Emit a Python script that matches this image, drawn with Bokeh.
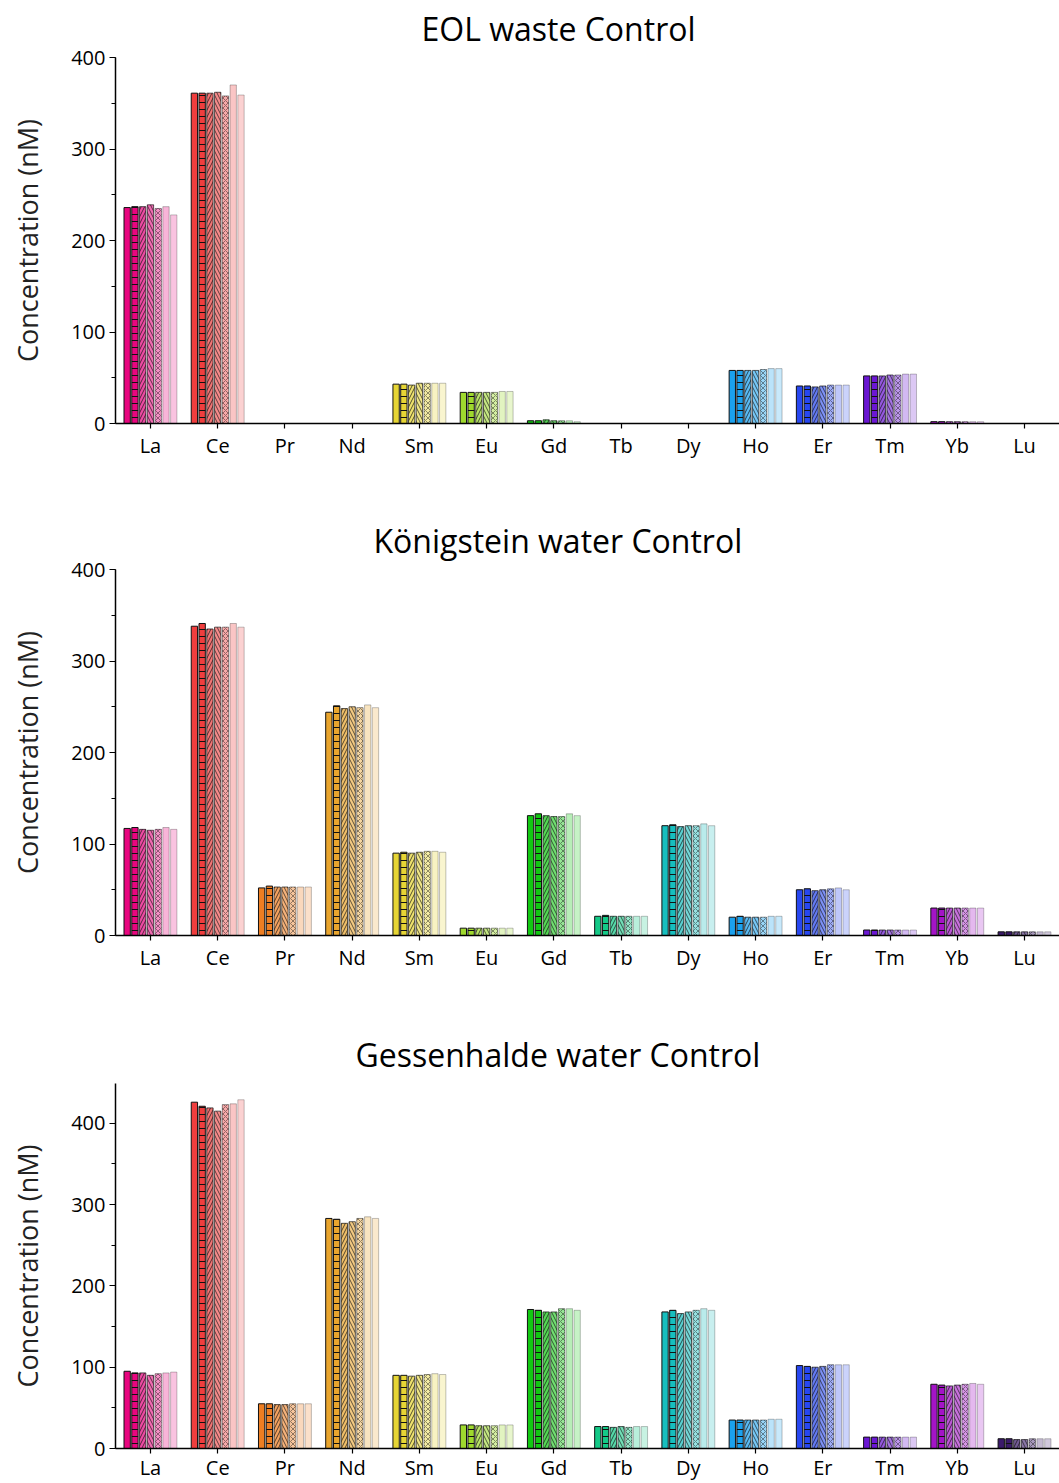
from bokeh.plotting import figure
from bokeh.models import ColumnDataSource, Range1d, FixedTicker, SingleIntervalTicker
from bokeh.layouts import column
from bokeh.embed import file_html
from bokeh.resources import INLINE

elements = ["La", "Ce", "Pr", "Nd", "Sm", "Eu", "Gd", "Tb", "Dy", "Ho", "Er", "Tm", "Yb", "Lu"]

# 7 replicate bars per element
eol_waste = [
    [236, 237, 237, 239, 235, 237, 228],
    [361, 361, 361, 362, 358, 370, 359],
    [0, 0, 0, 0, 0, 0, 0],
    [0, 0, 0, 0, 0, 0, 0],
    [43, 43, 42, 44, 44, 44, 44],
    [34, 34, 34, 34, 34, 35, 35],
    [3, 3, 4, 3, 3, 3, 2],
    [0, 0, 0, 0, 0, 0, 0],
    [0, 0, 0, 0, 0, 0, 0],
    [58, 58, 58, 58, 59, 60, 60],
    [41, 41, 40, 41, 42, 42, 42],
    [52, 52, 52, 53, 53, 54, 54],
    [2, 2, 2, 2, 2, 2, 2],
    [0, 0, 0, 0, 0, 0, 0],
]
koenigstein = [
    [117, 118, 116, 115, 116, 118, 116],
    [338, 341, 335, 337, 337, 341, 337],
    [52, 54, 53, 53, 53, 53, 53],
    [244, 251, 248, 250, 249, 252, 249],
    [90, 91, 90, 91, 92, 92, 91],
    [8, 8, 8, 8, 8, 8, 8],
    [131, 133, 131, 130, 130, 133, 131],
    [21, 22, 21, 21, 21, 21, 21],
    [120, 121, 119, 120, 120, 122, 120],
    [20, 21, 20, 20, 20, 21, 21],
    [50, 51, 49, 50, 51, 52, 50],
    [6, 6, 6, 6, 6, 6, 6],
    [30, 30, 30, 30, 30, 30, 30],
    [4, 4, 4, 4, 4, 4, 4],
]
gessenhalde = [
    [95, 93, 93, 90, 92, 93, 94],
    [426, 421, 419, 415, 423, 424, 429],
    [55, 55, 54, 54, 55, 55, 55],
    [283, 282, 277, 279, 283, 285, 283],
    [90, 90, 89, 90, 91, 92, 91],
    [29, 29, 28, 28, 28, 29, 29],
    [171, 170, 168, 168, 172, 172, 170],
    [27, 27, 26, 27, 26, 27, 27],
    [168, 170, 166, 168, 170, 172, 170],
    [35, 35, 35, 35, 35, 36, 36],
    [102, 101, 100, 101, 103, 103, 103],
    [14, 14, 14, 14, 14, 14, 14],
    [79, 78, 77, 78, 79, 80, 79],
    [12, 12, 11, 11, 12, 12, 12],
]

titles = ["EOL waste Control", "Königstein water Control", "Gessenhalde water Control"]
y_max = [400, 400, 449]

base_colors = ["#E8067F", "#EF3E3E", "#EE7E22", "#E9A52E", "#E6D535", "#9FD92E", "#12C812",
               "#14C987", "#17BEBE", "#1BA1EE", "#2747F0", "#6B17D3", "#A414C7", "#3B1A6B"]
fill_alphas = [1.0, 1.0, 0.72, 0.6, 0.45, 0.3, 0.24]
line_alphas = [1.0, 1.0, 0.7, 0.65, 0.45, 0.28, 0.25]
hatches = [" ", "horizontal_line", "right_diagonal_line", "left_diagonal_line", "diagonal_cross", " ", " "]
hatch_scales = [7, 7, 7, 7, 5, 7, 7]

slot = 0.1155
bar_w = 0.094
X0, X1 = -0.52, 13.52

FONT = "Open Sans"
# left-aligned title offsets (title text centred near page x ~557)
title_offsets = [306, 258, 240]


def make_panel(title, t_off, data, ymax, height, top_border, bottom_border, xlabel_standoff):
    x, top, fc, fa, la, hp, hs = [], [], [], [], [], [], []
    for i, row in enumerate(data):
        for j, v in enumerate(row):
            x.append(i + (j - 3) * slot)
            top.append(v)
            fc.append(base_colors[i])
            fa.append(fill_alphas[j])
            la.append(line_alphas[j])
            hp.append(hatches[j])
            hs.append(hatch_scales[j])
    src = ColumnDataSource(dict(x=x, top=top, fc=fc, fa=fa, la=la, hp=hp, hs=hs))
    p = figure(width=1059, height=height, output_backend="svg", toolbar_location=None,
               x_range=Range1d(X0, X1), y_range=Range1d(0, ymax),
               min_border_left=115, min_border_right=0, min_border_top=top_border,
               min_border_bottom=bottom_border, outline_line_color=None)
    p.vbar(x="x", top="top", bottom=0, width=bar_w, source=src,
           fill_color="fc", fill_alpha="fa", line_color="#111111", line_alpha="la",
           line_width=1, hatch_pattern="hp", hatch_color="#111111", hatch_alpha="la",
           hatch_scale="hs", hatch_weight=1)

    p.title.text = title
    p.title.align = "left"
    p.title.vertical_align = "top"
    p.title.offset = t_off
    p.title.text_font = FONT
    p.title.text_font_size = "32px"
    p.title.text_font_style = "normal"
    p.title.text_color = "#000000"
    p.title.standoff = 11

    p.xgrid.visible = False
    p.ygrid.visible = False

    xa = p.xaxis[0]
    xa.ticker = FixedTicker(ticks=list(range(14)), minor_ticks=[])
    xa.major_label_overrides = {i: e for i, e in enumerate(elements)}
    xa.major_label_text_font = FONT
    xa.major_label_text_font_size = "20px"
    xa.major_label_text_color = "#000000"
    xa.major_label_standoff = xlabel_standoff
    xa.axis_line_width = 1.5
    xa.axis_line_color = "#000000"
    xa.major_tick_out = 5
    xa.major_tick_in = 0
    xa.major_tick_line_width = 1.2
    xa.minor_tick_line_color = None

    ya = p.yaxis[0]
    ya.ticker = SingleIntervalTicker(interval=100, num_minor_ticks=2)
    ya.axis_label = "Concentration (nM)"
    ya.axis_label_text_font = FONT
    ya.axis_label_text_font_size = "27px"
    ya.axis_label_text_font_style = "normal"
    ya.axis_label_text_color = "#222222"
    ya.axis_label_standoff = 22
    ya.major_label_text_font = FONT
    ya.major_label_text_font_size = "20px"
    ya.major_label_text_color = "#000000"
    ya.major_label_standoff = 4
    ya.axis_line_width = 1.5
    ya.axis_line_color = "#000000"
    ya.major_tick_out = 6
    ya.major_tick_in = 0
    ya.minor_tick_out = 4
    ya.minor_tick_in = 0
    ya.major_tick_line_width = 1.2
    return p


panels = [
    make_panel(titles[0], title_offsets[0], eol_waste, y_max[0], 513, 57, 90, 3),
    make_panel(titles[1], title_offsets[1], koenigstein, y_max[1], 513, 56, 91, 3),
    make_panel(titles[2], title_offsets[2], gessenhalde, y_max[2], 457, 57, 34, 0),
]

layout = column(*panels, spacing=0)
open("out.html", "w").write(file_html(layout, INLINE))
